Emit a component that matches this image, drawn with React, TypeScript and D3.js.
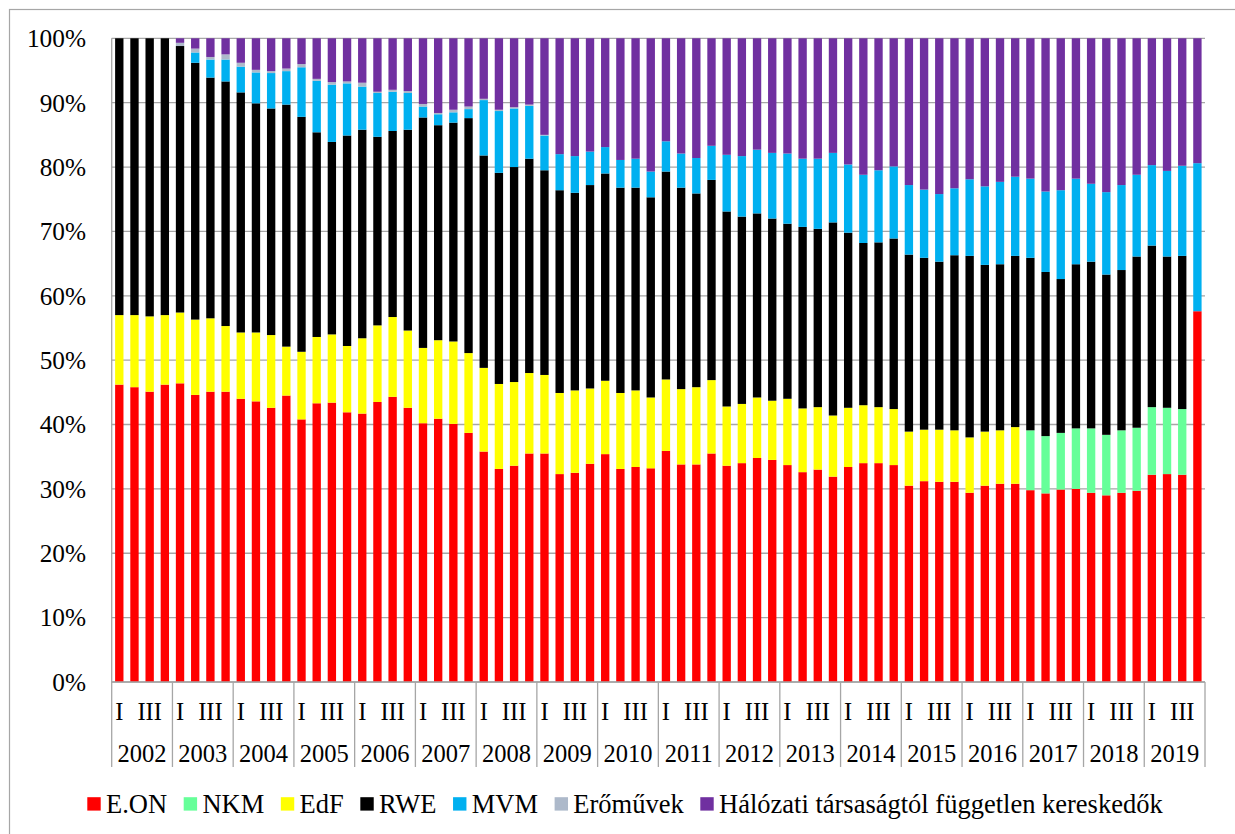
import { useEffect, useRef } from "react";
import * as d3 from "d3";

const years = [
  "2002", "2003", "2004", "2005", "2006", "2007", "2008", "2009", "2010",
  "2011", "2012", "2013", "2014", "2015", "2016", "2017", "2018", "2019",
];
const quarterLabels = ["I", "", "III", ""];
const yTicks = [0, 10, 20, 30, 40, 50, 60, 70, 80, 90, 100];

// shares in %, quarterly from 2002 Q1 to 2019 Q4
const eon = [
  46.2, 45.8, 45.1, 46.2, 46.4, 44.6, 45.1, 45.1, 44.0, 43.6, 42.6, 44.5,
  40.8, 43.3, 43.4, 41.9, 41.7, 43.5, 44.3, 42.6, 40.2, 40.9, 40.1, 38.7,
  35.8, 33.1, 33.6, 35.5, 35.5, 32.3, 32.5, 33.9, 35.4, 33.1, 33.4, 33.2,
  35.9, 33.8, 33.8, 35.5, 33.6, 34.0, 34.8, 34.5, 33.7, 32.6, 33.0, 31.9,
  33.4, 34.0, 34.0, 33.7, 30.5, 31.2, 31.1, 31.1, 29.4, 30.5, 30.8, 30.8,
  29.8, 29.3, 29.9, 30.0, 29.4, 29.0, 29.4, 29.7, 32.2, 32.3, 32.2, 57.6,
];
const nkm = [
  0, 0, 0, 0, 0, 0, 0, 0, 0, 0, 0, 0,
  0, 0, 0, 0, 0, 0, 0, 0, 0, 0, 0, 0,
  0, 0, 0, 0, 0, 0, 0, 0, 0, 0, 0, 0,
  0, 0, 0, 0, 0, 0, 0, 0, 0, 0, 0, 0,
  0, 0, 0, 0, 0, 0, 0, 0, 0, 0, 0, 0,
  9.3, 8.9, 8.8, 9.4, 10.0, 9.4, 9.7, 9.8, 10.5, 10.3, 10.2, 0,
];
const edf = [
  10.8, 11.2, 11.7, 10.8, 11.0, 11.7, 11.4, 10.2, 10.3, 10.7, 11.3, 7.6,
  10.5, 10.3, 10.6, 10.3, 11.7, 11.9, 12.4, 12.0, 11.7, 12.2, 12.8, 12.4,
  13.0, 13.2, 13.0, 12.5, 12.2, 12.6, 12.8, 11.7, 11.4, 11.8, 11.9, 11.0,
  11.1, 11.7, 12.0, 11.4, 9.2, 9.2, 9.4, 9.2, 10.3, 9.9, 9.7, 9.5,
  9.2, 9.0, 8.7, 8.7, 8.4, 8.0, 8.1, 8.0, 8.6, 8.4, 8.3, 8.8,
  0, 0, 0, 0, 0, 0, 0, 0, 0, 0, 0, 0,
];
const rwe = [
  43.0, 43.0, 43.2, 43.0, 41.4, 39.9, 37.4, 38.0, 37.3, 35.6, 35.2, 37.6,
  36.5, 31.8, 29.9, 32.7, 32.4, 29.3, 28.9, 31.2, 35.8, 33.4, 34.0, 36.5,
  33.0, 32.8, 33.4, 33.3, 31.8, 31.5, 30.7, 31.6, 32.2, 31.9, 31.5, 31.1,
  32.3, 31.3, 30.1, 31.1, 30.3, 29.1, 28.6, 28.3, 27.2, 28.2, 27.7, 30.0,
  27.2, 25.2, 25.6, 26.5, 27.5, 26.7, 26.1, 27.2, 28.2, 25.9, 25.8, 26.6,
  26.8, 25.5, 23.9, 25.5, 25.9, 24.9, 24.9, 26.6, 25.1, 23.5, 23.8, 0,
];
const mvm = [
  0, 0, 0, 0, 0, 1.6, 2.8, 3.4, 4.0, 4.8, 5.5, 5.2,
  7.7, 8.0, 8.9, 8.1, 6.7, 6.8, 6.1, 5.7, 1.7, 1.7, 1.6, 1.4,
  8.6, 9.6, 9.1, 8.2, 5.4, 5.6, 5.7, 5.2, 4.1, 4.3, 4.5, 4.0,
  4.7, 5.3, 5.5, 5.3, 8.8, 9.4, 9.9, 10.2, 10.9, 10.6, 10.9, 10.8,
  10.6, 10.6, 11.2, 11.2, 10.8, 10.6, 10.5, 10.4, 11.9, 12.2, 12.8, 12.3,
  12.3, 12.5, 13.8, 13.3, 12.1, 12.8, 13.2, 12.7, 12.5, 13.3, 14.0, 23.0,
];
const eromuvek = [
  0, 0, 0, 0, 0.5, 0.6, 0.4, 0.8, 0.6, 0.4, 0.3, 0.4,
  0.5, 0.3, 0.4, 0.3, 0.6, 0.2, 0.3, 0.3, 0.4, 0.2, 0.4, 0.4,
  0.2, 0.2, 0.2, 0.2, 0.1, 0, 0, 0, 0, 0, 0, 0,
  0, 0, 0, 0, 0, 0, 0, 0, 0, 0, 0, 0,
  0, 0, 0, 0, 0, 0, 0, 0, 0, 0, 0, 0,
  0, 0, 0, 0, 0, 0, 0, 0, 0, 0, 0, 0,
];
const halozati = [
  0, 0, 0, 0, 0.7, 1.6, 2.9, 2.5, 3.8, 4.9, 5.1, 4.7,
  4.0, 6.3, 6.8, 6.7, 6.9, 8.3, 8.0, 8.2, 10.2, 11.6, 11.1, 10.6,
  9.4, 11.1, 10.7, 10.3, 15.0, 18.0, 18.3, 17.6, 16.9, 18.9, 18.7, 20.7,
  16.0, 17.9, 18.6, 16.7, 18.1, 18.3, 17.3, 17.8, 17.9, 18.7, 18.7, 17.8,
  19.6, 21.2, 20.5, 19.9, 22.8, 23.5, 24.2, 23.3, 21.9, 23.0, 22.3, 21.5,
  21.8, 23.8, 23.6, 21.8, 22.6, 23.9, 22.8, 21.2, 19.7, 20.6, 19.8, 19.4,
];

const series = [
  { key: "E.ON", color: "#ff0000", values: eon },
  { key: "NKM", color: "#66ff99", values: nkm },
  { key: "EdF", color: "#ffff00", values: edf },
  { key: "RWE", color: "#000000", values: rwe },
  { key: "MVM", color: "#00b0f0", values: mvm },
  { key: "Erőművek", color: "#adb9ca", values: eromuvek },
  { key: "Hálózati társaságtól független kereskedők", color: "#7030a0", values: halozati },
];

export default function App() {
  const svgRef = useRef(null);

  useEffect(() => {
    const svg = d3.select(svgRef.current);
    svg.selectAll("*").remove();

    const width = 1235;
    const height = 834;
    const plot = { left: 111.7, right: 1205, top: 38.3, bottom: 682 };
    const font = '"Liberation Serif", "Times New Roman", serif';
    const gridColor = "#a6a6a6";

    svg.attr("width", width).attr("height", height);

    svg
      .append("rect")
      .attr("x", 9.5)
      .attr("y", 9.5)
      .attr("width", width + 20)
      .attr("height", height + 20)
      .attr("fill", "white")
      .attr("stroke", gridColor)
      .attr("stroke-width", 1.2);

    const rows = years.flatMap((yr, yi) =>
      quarterLabels.map((q, qi) => {
        const idx = yi * 4 + qi;
        const row: any = { id: `${yr}-${qi}`, year: yr, qi, label: q };
        series.forEach((s) => (row[s.key] = s.values[idx]));
        return row;
      })
    );

    const x = d3
      .scaleBand()
      .domain(rows.map((r) => r.id))
      .range([plot.left, plot.right])
      .paddingInner(0.45)
      .paddingOuter(0.225);

    const y = d3.scaleLinear().domain([0, 100]).range([plot.bottom, plot.top]);

    // gridlines
    svg
      .append("g")
      .selectAll("line")
      .data(yTicks)
      .enter()
      .append("line")
      .attr("x1", plot.left)
      .attr("x2", plot.right)
      .attr("y1", (d) => y(d))
      .attr("y2", (d) => y(d))
      .attr("stroke", gridColor)
      .attr("stroke-width", 1.3);

    // y axis line
    svg
      .append("line")
      .attr("x1", plot.left)
      .attr("x2", plot.left)
      .attr("y1", plot.top)
      .attr("y2", plot.bottom)
      .attr("stroke", gridColor)
      .attr("stroke-width", 1.3);

    const stack = d3.stack().keys(series.map((s) => s.key));
    const layers = stack(rows);

    svg
      .append("g")
      .selectAll("g")
      .data(layers)
      .enter()
      .append("g")
      .attr("fill", (d, i) => series[i].color)
      .selectAll("rect")
      .data((d) => d)
      .enter()
      .append("rect")
      .attr("x", (d) => x(d.data.id))
      .attr("width", x.bandwidth())
      .attr("y", (d) => y(d[1]))
      .attr("height", (d) => Math.max(0, y(d[0]) - y(d[1])));

    // y tick labels
    svg
      .append("g")
      .selectAll("text")
      .data(yTicks)
      .enter()
      .append("text")
      .attr("x", 86)
      .attr("y", (d) => y(d))
      .attr("dy", "0.35em")
      .attr("text-anchor", "end")
      .attr("font-family", font)
      .attr("font-size", 25.3)
      .attr("fill", "#000")
      .text((d) => d + "%");

    // category axis
    const yearWidth = x.step() * 4;
    const yearStart = (i) => plot.left + i * yearWidth;

    svg
      .append("g")
      .selectAll("line")
      .data(d3.range(years.length + 1))
      .enter()
      .append("line")
      .attr("x1", (i) => yearStart(i))
      .attr("x2", (i) => yearStart(i))
      .attr("y1", plot.bottom)
      .attr("y2", 767)
      .attr("stroke", gridColor)
      .attr("stroke-width", 1.3);

    svg
      .append("line")
      .attr("x1", plot.left)
      .attr("x2", plot.right)
      .attr("y1", plot.bottom)
      .attr("y2", plot.bottom)
      .attr("stroke", gridColor)
      .attr("stroke-width", 1.3);

    svg
      .append("g")
      .selectAll("text")
      .data(rows.filter((r) => r.label))
      .enter()
      .append("text")
      .attr("x", (d) => x(d.id) + x.bandwidth() / 2)
      .attr("y", 711)
      .attr("dy", "0.35em")
      .attr("text-anchor", "middle")
      .attr("font-family", font)
      .attr("font-size", 24.5)
      .text((d) => d.label);

    svg
      .append("g")
      .selectAll("text")
      .data(years)
      .enter()
      .append("text")
      .attr("x", (d, i) => yearStart(i) + yearWidth / 2)
      .attr("y", 753.5)
      .attr("dy", "0.35em")
      .attr("text-anchor", "middle")
      .attr("font-family", font)
      .attr("font-size", 24.5)
      .text((d) => d);

    // legend
    const legend = svg.append("g").attr("transform", "translate(87.3, 804)");
    let cx = 0;
    series.forEach((s) => {
      const g = legend.append("g").attr("transform", `translate(${cx}, 0)`);
      g.append("rect")
        .attr("x", 0)
        .attr("y", -6.8)
        .attr("width", 13.4)
        .attr("height", 13.4)
        .attr("fill", s.color);
      const t = g
        .append("text")
        .attr("x", 18.7)
        .attr("y", 0)
        .attr("dy", "0.35em")
        .attr("font-family", font)
        .attr("font-size", 26.5)
        .text(s.key);
      const w = (t.node() as SVGTextElement).getComputedTextLength();
      cx += 18.7 + w + 16.6;
    });
  }, []);

  return (
    <svg
      ref={svgRef}
      style={{ position: "absolute", left: 0, top: 0, display: "block" }}
    ></svg>
  );
}
